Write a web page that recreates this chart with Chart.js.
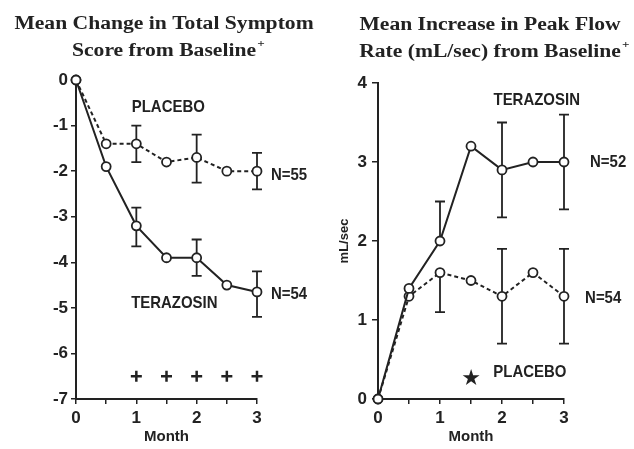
<!DOCTYPE html>
<html>
<head>
<meta charset="utf-8">
<script src="https://cdn.jsdelivr.net/npm/chart.js@4.4.1/dist/chart.umd.min.js"></script>
<style>
  body { margin: 0; background: #fff; }
  #wrap { position: relative; width: 634px; height: 449px; overflow: hidden; }
  canvas { position: absolute; top: 0; }
  #leftChart { left: 0; }
  #rightChart { left: 317px; }
</style>
</head>
<body>
<div id="wrap">
  <canvas id="leftChart" width="317" height="449"></canvas>
  <canvas id="rightChart" width="317" height="449"></canvas>
</div>
<script>
// months on the x axis, ticks every half month, labels only on whole months
const months = [0, 0.5, 1, 1.5, 2, 2.5, 3];
const monthTickLabels = ['0', '', '1', '', '2', '', '3'];

// left panel: mean change in total symptom score
const symptomTerazosin = [0, -1.9, -3.2, -3.9, -3.9, -4.5, -4.65];
const symptomPlacebo = [0, -1.4, -1.4, -1.8, -1.7, -2.0, -2.0];
const errMonths = [1, 2, 3];
const symptomTerazosinHi = [-2.8, -3.5, -4.2];
const symptomTerazosinLo = [-3.65, -4.3, -5.2];
const symptomPlaceboHi = [-1.0, -1.2, -1.6];
const symptomPlaceboLo = [-1.8, -2.25, -2.4];
const plusMonths = [1, 1.5, 2, 2.5, 3];
const plusLevel = -6.5;
const symptomTickLabels = ['-7', '-6', '-5', '-4', '-3', '-2', '-1', '0'];

// right panel: mean increase in peak flow rate
const flowTerazosin = [0, 1.4, 2.0, 3.2, 2.9, 3.0, 3.0];
const flowPlacebo = [0, 1.3, 1.6, 1.5, 1.3, 1.6, 1.3];
const flowTerazosinHi = [2.5, 3.5, 3.6];
const flowTerazosinLo = [2.0, 2.3, 2.4];
const flowPlaceboHi = [1.6, 1.9, 1.9];
const flowPlaceboLo = [1.1, 0.7, 0.7];
const flowTickLabels = ['0', '1', '2', '3', '4'];

const INK = '#222';
const SANS = '"Liberation Sans", Arial, sans-serif';
const SERIF = '"Liberation Serif", "Times New Roman", serif';

Chart.defaults.font.family = SANS;
Chart.defaults.font.weight = 'bold';
Chart.defaults.font.size = 17;
Chart.defaults.color = INK;

function toPoints(xs, ys) {
  return xs.map((x, i) => ({x: x, y: ys[i]}));
}

// error bars drawn under the markers
const errorBars = {
  id: 'errorBars',
  beforeDatasetsDraw(chart) {
    const {ctx, scales: {x, y}} = chart;
    ctx.save();
    ctx.strokeStyle = INK;
    ctx.lineWidth = 1.8;
    chart.data.datasets.forEach(ds => {
      if (!ds.errors) return;
      ds.errors.x.forEach((m, i) => {
        const mean = ds.data.find(p => p.x === m).y;
        const px = x.getPixelForValue(m);
        const top = y.getPixelForValue(ds.errors.hi[i]);
        const bot = y.getPixelForValue(ds.errors.lo[i]);
        ctx.beginPath();
        ctx.moveTo(px, top);
        ctx.lineTo(px, bot);
        if (ds.errors.hi[i] !== mean) { ctx.moveTo(px - 5, top); ctx.lineTo(px + 5, top); }
        if (ds.errors.lo[i] !== mean) { ctx.moveTo(px - 5, bot); ctx.lineTo(px + 5, bot); }
        ctx.stroke();
      });
    });
    ctx.restore();
  }
};

// text labels placed in data units, plus the two line serif heading
const notes = {
  id: 'notes',
  afterDatasetsDraw(chart, args, opts) {
    const {ctx, scales: {x, y}} = chart;
    ctx.save();
    ctx.fillStyle = INK;
    ctx.textBaseline = 'middle';
    opts.items.forEach(n => {
      ctx.save();
      ctx.translate(x.getPixelForValue(n.x), y.getPixelForValue(n.y));
      ctx.scale(n.squeeze || 0.88, 1);
      ctx.font = n.font || 'bold 17px ' + SANS;
      ctx.textAlign = n.align || 'center';
      ctx.fillText(n.text, 0, 0);
      ctx.restore();
    });
    const h = opts.heading;
    ctx.font = 'bold 18px ' + SERIF;
    ctx.textBaseline = 'alphabetic';
    ctx.textAlign = 'center';
    h.lines.forEach((line, i) => {
      ctx.save();
      ctx.translate(h.cx, h.baselines[i]);
      ctx.scale(1.2, 1);
      ctx.fillText(line, 0, 0);
      if (i === h.lines.length - 1) {
        const w = ctx.measureText(line).width;
        ctx.font = 'bold 11px ' + SERIF;
        ctx.textAlign = 'left';
        ctx.fillText('+', w / 2 + 1, -9);
      }
      ctx.restore();
    });
    ctx.restore();
  }
};

function axisX() {
  return {
    type: 'linear', min: 0, max: 3,
    ticks: {stepSize: 0.5, padding: 4, callback: (v, i) => monthTickLabels[i]},
    grid: {drawOnChartArea: false, tickLength: 5, color: INK, lineWidth: 1.5},
    border: {color: INK, width: 2},
    title: {display: true, text: 'Month', font: {size: 15, weight: 'bold'}, padding: {top: 0, bottom: 3}},
    afterFit: s => { s.height = 50; }
  };
}

function seriesSet(terazosin, placebo, tErr, pErr) {
  return [
    {label: 'TERAZOSIN', data: toPoints(months, terazosin), errors: tErr,
     borderColor: INK, borderWidth: 2, backgroundColor: '#fff',
     pointRadius: 4.5, pointBorderWidth: 1.8, pointBackgroundColor: '#fff', clip: false},
    {label: 'PLACEBO', data: toPoints(months, placebo), errors: pErr,
     borderColor: INK, borderWidth: 2, borderDash: [4, 3], backgroundColor: '#fff',
     pointRadius: 4.5, pointBorderWidth: 1.8, pointBackgroundColor: '#fff', clip: false}
  ];
}

const leftChart = new Chart(document.getElementById('leftChart').getContext('2d'), {
  type: 'line',
  data: {
    datasets: seriesSet(symptomTerazosin, symptomPlacebo,
      {x: errMonths, hi: symptomTerazosinHi, lo: symptomTerazosinLo},
      {x: errMonths, hi: symptomPlaceboHi, lo: symptomPlaceboLo}).concat([
      {label: 'plus', data: plusMonths.map(m => ({x: m, y: plusLevel})), showLine: false,
       pointStyle: 'cross', pointRadius: 5.5, pointBorderWidth: 2.5, borderColor: INK, clip: false}
    ])
  },
  options: {
    responsive: false,
    animation: false,
    layout: {padding: {top: 80, right: 60, bottom: 0, left: 0}},
    plugins: {
      legend: {display: false},
      tooltip: {enabled: false},
      notes: {
        items: [
          {text: 'PLACEBO', x: 1.53, y: -0.6},
          {text: 'TERAZOSIN', x: 1.63, y: -4.9},
          {text: 'N=55', x: 3.23, y: -2.1, align: 'left'},
          {text: 'N=54', x: 3.23, y: -4.7, align: 'left'}
        ],
        heading: {lines: ['Mean Change in Total Symptom', 'Score from Baseline'], cx: 164, baselines: [29, 56]}
      }
    },
    scales: {
      x: axisX(),
      y: {
        type: 'linear', min: -7, max: 0,
        ticks: {stepSize: 1, padding: 3, callback: (v, i) => symptomTickLabels[i]},
        grid: {drawOnChartArea: false, tickLength: 5, color: INK, lineWidth: 1.5},
        border: {color: INK, width: 2},
        afterFit: s => { s.width = 76; }
      }
    }
  },
  plugins: [errorBars, notes]
});

const rightChart = new Chart(document.getElementById('rightChart').getContext('2d'), {
  type: 'line',
  data: {
    datasets: seriesSet(flowTerazosin, flowPlacebo,
      {x: errMonths, hi: flowTerazosinHi, lo: flowTerazosinLo},
      {x: errMonths, hi: flowPlaceboHi, lo: flowPlaceboLo})
  },
  options: {
    responsive: false,
    animation: false,
    layout: {padding: {top: 83, right: 70, bottom: 0, left: 0}},
    plugins: {
      legend: {display: false},
      tooltip: {enabled: false},
      notes: {
        items: [
          {text: 'TERAZOSIN', x: 2.56, y: 3.78},
          {text: 'PLACEBO', x: 2.45, y: 0.34},
          {text: 'N=52', x: 3.42, y: 3.0, align: 'left'},
          {text: 'N=54', x: 3.34, y: 1.28, align: 'left'},
          {text: '★', x: 1.5, y: 0.25, squeeze: 1, font: '22px "DejaVu Sans", sans-serif'}
        ],
        heading: {lines: ['Mean Increase in Peak Flow', 'Rate (mL/sec) from Baseline'], cx: 173, baselines: [30, 57]}
      }
    },
    scales: {
      x: axisX(),
      y: {
        type: 'linear', min: 0, max: 4,
        ticks: {stepSize: 1, padding: 5, callback: (v, i) => flowTickLabels[i]},
        grid: {drawOnChartArea: false, tickLength: 6, color: INK, lineWidth: 1.5},
        border: {color: INK, width: 2},
        title: {display: true, text: 'mL/sec', font: {size: 13, weight: 'bold'}, padding: {top: 20, bottom: 0}},
        afterFit: s => { s.width = 61; }
      }
    }
  },
  plugins: [errorBars, notes]
});
</script>
</body>
</html>
